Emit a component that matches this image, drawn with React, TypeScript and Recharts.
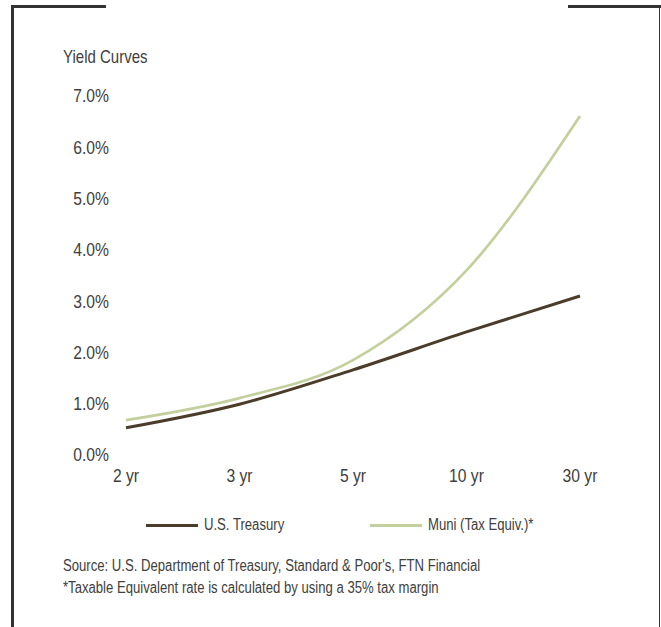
import { LineChart, Line, XAxis, YAxis } from "recharts";

const maturities = ["2 yr", "3 yr", "5 yr", "10 yr", "30 yr"];
const treasuryYields = [0.53, 0.99, 1.66, 2.4, 3.1];
const muniYields = [0.68, 1.11, 1.85, 3.6, 6.61];
const yTicks = [0, 1, 2, 3, 4, 5, 6, 7];

const TREASURY = "#4b3c2a";
const MUNI = "#c4cf9e";
const TEXT = "#404040";
const FRAME = "#333333";
const FONT = '"Liberation Sans Narrow", "Arial Narrow", "Liberation Sans", Arial, sans-serif';

const data = maturities.map((m, i) => ({
  maturity: m,
  treasury: treasuryYields[i],
  muni: muniYields[i],
}));

// no narrow font installed, so squeeze the text horizontally
function NarrowTick(props: any) {
  const { x, y, payload, textAnchor, dy, formatter } = props;
  const label = formatter ? formatter(payload.value) : payload.value;
  return (
    <g transform={`translate(${x},${y}) scale(0.87,1)`}>
      <text x={0} y={0} dy={dy} textAnchor={textAnchor} fill={TEXT} fontSize={18} fontFamily={FONT}>
        {label}
      </text>
    </g>
  );
}

function Narrow({ children, scale = 0.82 }: { children: React.ReactNode; scale?: number }) {
  return (
    <span style={{ display: "inline-block", transform: `scaleX(${scale})`, transformOrigin: "left center", whiteSpace: "nowrap" }}>
      {children}
    </span>
  );
}

function LegendItem({ color, label, left }: { color: string; label: string; left: number }) {
  return (
    <div style={{ position: "absolute", left, top: 516, display: "flex", alignItems: "center" }}>
      <div style={{ width: 52, height: 3, background: color }} />
      <span style={{ marginLeft: 6, fontSize: 16, color: TEXT }}>
        <Narrow>{label}</Narrow>
      </span>
    </div>
  );
}

const pct = (v: number) => `${v.toFixed(1)}%`;

export default function App() {
  return (
    <div
      style={{
        position: "absolute",
        left: 0,
        top: 0,
        width: 661,
        height: 627,
        background: "#fff",
        fontFamily: FONT,
        overflow: "hidden",
      }}
    >
      {/* frame pieces */}
      <div style={{ position: "absolute", left: 11, top: 5, width: 3, height: 622, background: FRAME }} />
      <div style={{ position: "absolute", left: 11, top: 5, width: 95, height: 3, background: FRAME }} />
      <div style={{ position: "absolute", left: 568, top: 5, width: 93, height: 3, background: FRAME }} />
      <div style={{ position: "absolute", left: 659, top: 5, width: 1, height: 622, background: FRAME }} />

      <div style={{ position: "absolute", left: 63, top: 46, fontSize: 19, color: TEXT }}>
        <Narrow scale={0.79}>Yield Curves</Narrow>
      </div>

      <div style={{ position: "absolute", left: 0, top: 0 }}>
        <LineChart
          width={661}
          height={495}
          data={data}
          margin={{ top: 96, right: 81, bottom: 0, left: 66 }}
        >
          <XAxis
            dataKey="maturity"
            axisLine={false}
            tickLine={false}
            tickSize={0}
            tickMargin={14}
            height={40}
            interval={0}
            tick={<NarrowTick dy="0.71em" />}
          />
          <YAxis
            domain={[0, 7]}
            ticks={yTicks}
            width={60}
            axisLine={false}
            tickLine={false}
            tickSize={0}
            tickMargin={17}
            tick={<NarrowTick dy="0.355em" formatter={pct} />}
          />
          <Line
            type="monotone"
            dataKey="treasury"
            stroke={TREASURY}
            strokeWidth={3}
            dot={false}
            isAnimationActive={false}
          />
          <Line
            type="monotone"
            dataKey="muni"
            stroke={MUNI}
            strokeWidth={2.7}
            dot={false}
            isAnimationActive={false}
          />
        </LineChart>
      </div>

      <LegendItem color={TREASURY} label="U.S. Treasury" left={146} />
      <LegendItem color={MUNI} label="Muni (Tax Equiv.)*" left={370} />

      <div style={{ position: "absolute", left: 63, top: 555, fontSize: 16, color: TEXT, lineHeight: "22px" }}>
        <div><Narrow>Source: U.S. Department of Treasury, Standard &amp; Poor's, FTN Financial</Narrow></div>
        <div><Narrow>*Taxable Equivalent rate is calculated by using a 35% tax margin</Narrow></div>
      </div>
    </div>
  );
}
